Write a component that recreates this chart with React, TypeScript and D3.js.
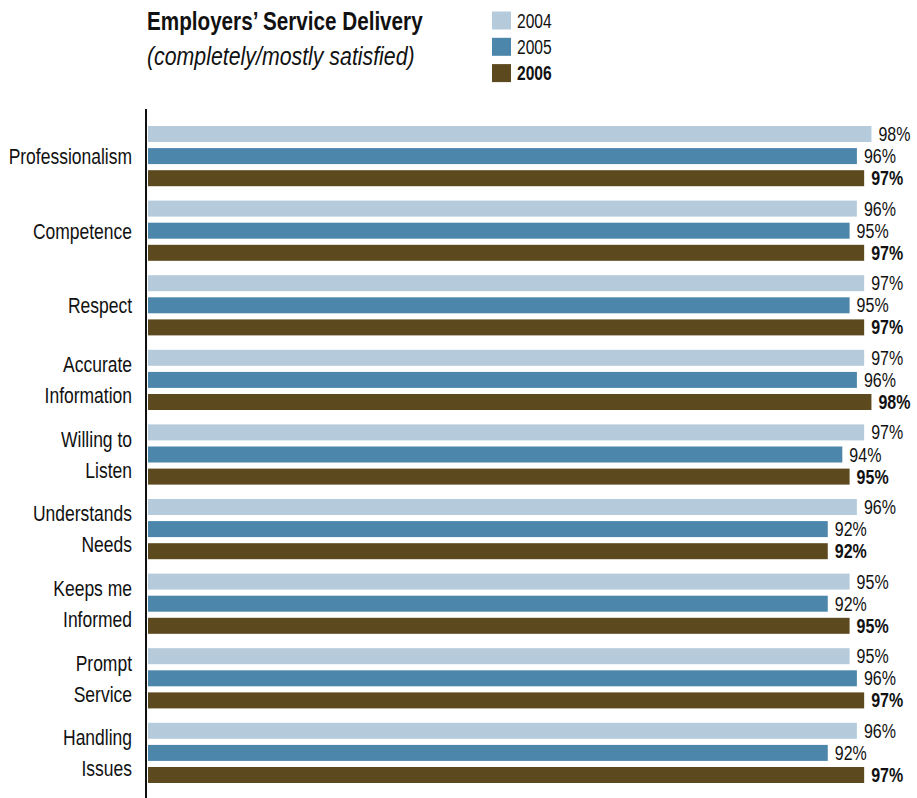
import React from "react";
import * as d3 from "d3";

const categories = [
  ["Professionalism"],
  ["Competence"],
  ["Respect"],
  ["Accurate", "Information"],
  ["Willing to", "Listen"],
  ["Understands", "Needs"],
  ["Keeps me", "Informed"],
  ["Prompt", "Service"],
  ["Handling", "Issues"],
];
const years = ["2004", "2005", "2006"];
const values2004 = [98, 96, 97, 97, 97, 96, 95, 95, 96];
const values2005 = [96, 95, 95, 96, 94, 92, 92, 96, 92];
const values2006 = [97, 97, 97, 98, 95, 92, 95, 97, 97];
const colors = ["#b5cbdb", "#4d86ab", "#5c4a1e"];

const W = 917;
const H = 798;
const FONT = "'Liberation Sans', Arial, sans-serif";

function T({
  x,
  y,
  size,
  sx = 0.8,
  anchor = "start",
  weight = "normal",
  italic = false,
  children,
}: {
  x: number;
  y: number;
  size: number;
  sx?: number;
  anchor?: string;
  weight?: string;
  italic?: boolean;
  children: React.ReactNode;
}) {
  return (
    <text
      transform={`translate(${x},${y}) scale(${sx},1)`}
      fontSize={size}
      fontWeight={weight}
      fontStyle={italic ? "italic" : "normal"}
      textAnchor={anchor}
      fill="#111"
    >
      {children}
    </text>
  );
}

export default function App() {
  const series = [values2004, values2005, values2006];
  const axisX = 146;
  const barStart = 148;
  const x = d3.scaleLinear().domain([0, 100]).range([158, 886]);
  const y = d3
    .scaleBand<number>()
    .domain(d3.range(categories.length))
    .range([126, 783])
    .paddingInner(0.193)
    .paddingOuter(0);
  const yi = d3
    .scaleBand<number>()
    .domain(d3.range(3))
    .range([0, y.bandwidth()])
    .paddingInner(0.276)
    .paddingOuter(0);

  return (
    <svg
      width={W}
      height={H}
      style={{ position: "absolute", left: 0, top: 0, background: "#fff" }}
      fontFamily={FONT}
    >
      <T x={147} y={30} size={25} sx={0.827} weight="bold">
        Employers’ Service Delivery
      </T>
      <T x={147} y={65} size={26} sx={0.82} italic>
        (completely/mostly satisfied)
      </T>
      {years.map((yr, i) => (
        <g key={yr} transform={`translate(492, ${11.5 + i * 26.3})`}>
          <rect width={19} height={18} fill={colors[i]} />
          <T x={25} y={16} size={19.5} weight={i === 2 ? "bold" : "normal"}>
            {yr}
          </T>
        </g>
      ))}
      {categories.map((lines, ci) => {
        const y0 = y(ci)!;
        const cy = y0 + y.bandwidth() / 2;
        const lh = 31;
        return (
          <g key={ci}>
            {lines.map((ln, li) => (
              <T
                key={li}
                x={132}
                y={cy + 7.8 + (li - (lines.length - 1) / 2) * lh}
                anchor="end"
                size={22}
                sx={0.795}
              >
                {ln}
              </T>
            ))}
            {series.map((vals, si) => {
              const by = y0 + yi(si)!;
              const bh = yi.bandwidth();
              const xe = x(vals[ci]);
              return (
                <g key={si}>
                  <rect x={barStart} y={by} width={xe - barStart} height={bh} fill={colors[si]} />
                  <T
                    x={xe + 7}
                    y={by + bh - 1}
                    size={20}
                    weight={si === 2 ? "bold" : "normal"}
                  >
                    {vals[ci]}%
                  </T>
                </g>
              );
            })}
          </g>
        );
      })}
      <line x1={axisX} x2={axisX} y1={109} y2={H} stroke="#111" strokeWidth={2} />
    </svg>
  );
}
